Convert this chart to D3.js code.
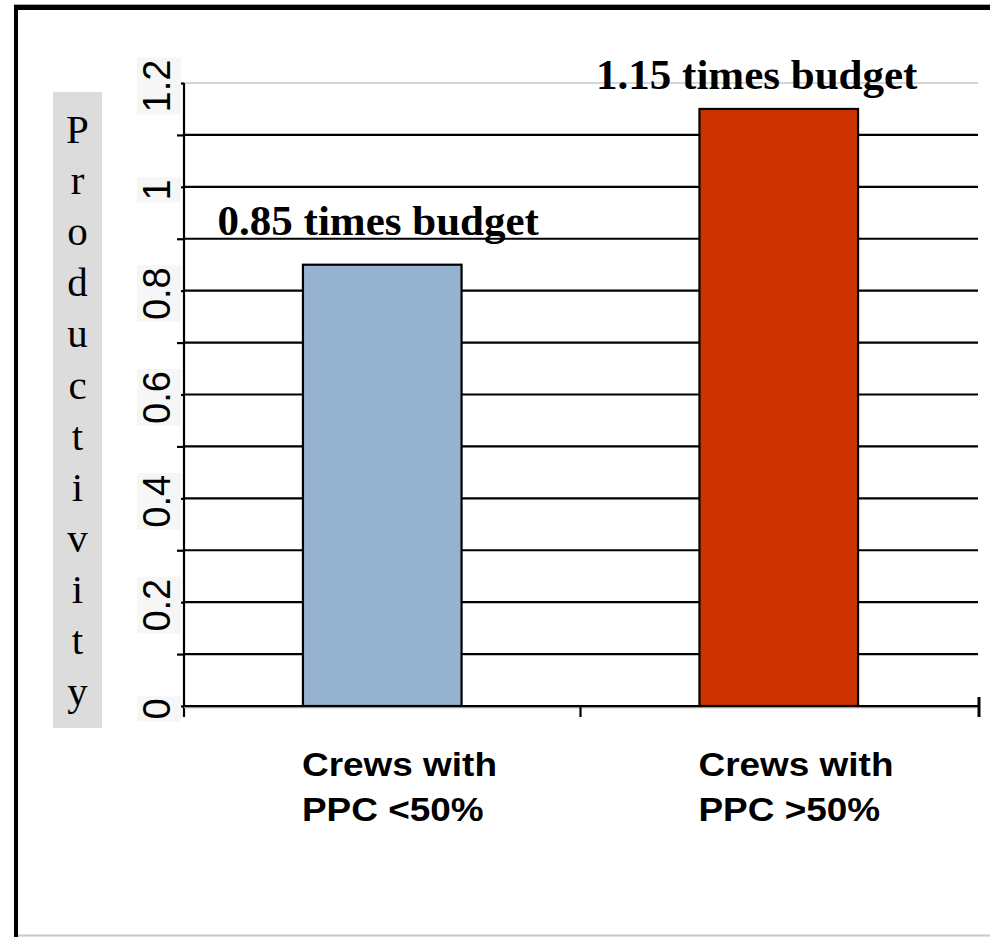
<!DOCTYPE html>
<html>
<head>
<meta charset="utf-8">
<script src="https://cdn.jsdelivr.net/npm/d3@7"></script>
<style>
  html, body { margin: 0; padding: 0; background: #fff; }
  svg { display: block; }
</style>
</head>
<body>
<svg id="chart" width="990" height="937"></svg>
<script>
// Productivity of crews grouped by Percent Plan Complete (PPC)
const categories = [["Crews with", "PPC <50%"], ["Crews with", "PPC >50%"]];
const productivity = [0.85, 1.15];
const barColors = ["#95b3d1", "#cc3300"];
const yTickValues = [0, 0.2, 0.4, 0.6, 0.8, 1, 1.2];
const yGridValues = [0, 0.1, 0.2, 0.3, 0.4, 0.5, 0.6, 0.7, 0.8, 0.9, 1, 1.1, 1.2];
const yTitle = "Productivity";

const svg = d3.select("#chart");
const W = 990, H = 937;
const plot = { left: 184, right: 978, top: 83, bottom: 706 };

svg.append("rect").attr("width", W).attr("height", H).attr("fill", "#fff");

// outer frame: heavy top and left rules, faint bottom rule
svg.append("line").attr("x1", 14).attr("x2", W).attr("y1", 4.5).attr("y2", 4.5)
  .attr("stroke", "#aaa").attr("stroke-width", 1);
svg.append("line").attr("x1", 14).attr("x2", W).attr("y1", 7.5).attr("y2", 7.5)
  .attr("stroke", "#000").attr("stroke-width", 5);
svg.append("line").attr("x1", 16).attr("x2", 16).attr("y1", 5).attr("y2", H)
  .attr("stroke", "#000").attr("stroke-width", 4);
svg.append("line").attr("x1", 18).attr("x2", W).attr("y1", 935.5).attr("y2", 935.5)
  .attr("stroke", "#c8c8c8").attr("stroke-width", 2);

const x = d3.scaleBand()
  .domain(d3.range(categories.length))
  .range([plot.left, plot.right - 1])
  .paddingInner(0.6)
  .paddingOuter(0.3);

const y = d3.scaleLinear().domain([0, 1.2]).range([plot.bottom, plot.top]);

// horizontal gridlines
svg.append("g").selectAll("line").data(yGridValues).join("line")
  .attr("x1", plot.left).attr("x2", plot.right)
  .attr("y1", d => y(d)).attr("y2", d => y(d))
  .attr("stroke", d => d === 1.2 ? "#c8c8c8" : "#000")
  .attr("stroke-width", d => d === 1.2 ? 1.5 : 2.2);

// y axis: minor ticks every 0.1 reach further left than the major ones
const yAxisMinor = d3.axisLeft(y).tickValues(yGridValues.filter(v => v > 0 && !yTickValues.includes(v)))
  .tickSize(7).tickFormat("");
const yAxisMajor = d3.axisLeft(y).tickValues(yTickValues).tickSize(3).tickFormat("");
[yAxisMinor, yAxisMajor].forEach(ax => {
  const g = svg.append("g").attr("transform", `translate(${plot.left},0)`).call(ax);
  g.select(".domain").remove();
  g.selectAll(".tick line").attr("stroke", "#000").attr("stroke-width", 2.2);
});
svg.append("line").attr("x1", plot.left).attr("x2", plot.left)
  .attr("y1", plot.top).attr("y2", plot.bottom + 11)
  .attr("stroke", "#000").attr("stroke-width", 2.2);

// rotated y tick labels on pale boxes
const yLab = svg.append("g").selectAll("g").data(yTickValues).join("g")
  .attr("transform", d => `translate(170,${y(d) + 3}) rotate(-90)`);
yLab.append("text")
  .attr("text-anchor", "middle")
  .attr("font-family", "'Liberation Sans', Arial, sans-serif")
  .attr("font-size", 38)
  .attr("fill", "#000")
  .text(d => d3.format("~g")(d));
yLab.each(function () {
  const g = d3.select(this);
  const w = g.select("text").node().getComputedTextLength();
  g.insert("rect", "text")
    .attr("x", -w / 2 - 2).attr("width", w + 4)
    .attr("y", -33).attr("height", 44)
    .attr("fill", "#f6f6f6");
});

// bars
svg.append("g").selectAll("rect").data(productivity).join("rect")
  .attr("x", (d, i) => x(i))
  .attr("width", x.bandwidth())
  .attr("y", d => y(d))
  .attr("height", d => y(0) - y(d))
  .attr("fill", (d, i) => barColors[i])
  .attr("stroke", "#000").attr("stroke-width", 2.2);

// x axis line and band boundary ticks
svg.append("line").attr("x1", plot.left).attr("x2", plot.right + 1)
  .attr("y1", y(0) + 1.5).attr("y2", y(0) + 1.5)
  .attr("stroke", "#999").attr("stroke-width", 1.5);
svg.append("line").attr("x1", plot.left).attr("x2", plot.right + 1)
  .attr("y1", y(0)).attr("y2", y(0))
  .attr("stroke", "#000").attr("stroke-width", 2.2);
const step = x.step();
svg.append("g").selectAll("line").data([1]).join("line")
  .attr("x1", d => x(0) - x.paddingOuter() * step + d * step)
  .attr("x2", d => x(0) - x.paddingOuter() * step + d * step)
  .attr("y1", y(0)).attr("y2", y(0) + 11)
  .attr("stroke", "#000").attr("stroke-width", 2.2);
svg.append("line").attr("x1", plot.right + 1).attr("x2", plot.right + 1)
  .attr("y1", y(0) - 9).attr("y2", y(0) + 11)
  .attr("stroke", "#000").attr("stroke-width", 3);

// value labels above the bars
const labelShift = [-4, -22];
const labelLift = [30, 20];
svg.append("g").selectAll("text").data(productivity).join("text")
  .attr("x", (d, i) => x(i) + x.bandwidth() / 2 + labelShift[i])
  .attr("y", (d, i) => y(d) - labelLift[i])
  .attr("text-anchor", "middle")
  .attr("font-family", "'Liberation Serif', 'Times New Roman', serif")
  .attr("font-weight", "bold")
  .attr("font-size", 43)
  .attr("fill", "#000")
  .text(d => `${d.toFixed(2)} times budget`);

// category labels, two lines each
const catG = svg.append("g").selectAll("g").data(categories).join("g")
  .attr("transform", (d, i) => `translate(${x(i) - 1},776) scale(1.12,1)`);
catG.selectAll("text").data(d => d).join("text")
  .attr("x", 0)
  .attr("y", (d, j) => j * 45)
  .attr("font-family", "'Liberation Sans', Arial, sans-serif")
  .attr("font-weight", "bold")
  .attr("font-size", 33)
  .attr("fill", "#000")
  .text(d => d);

// y axis title, stacked letters on a grey strip
svg.append("rect").attr("x", 53).attr("y", 92).attr("width", 49).attr("height", 636)
  .attr("fill", "#dcdcdc");
svg.append("g").selectAll("text").data(yTitle.split("")).join("text")
  .attr("x", 77.5)
  .attr("y", (d, i) => 143 + i * 51.1)
  .attr("text-anchor", "middle")
  .attr("font-family", "'Liberation Serif', 'Times New Roman', serif")
  .attr("font-size", 41)
  .attr("fill", "#000")
  .text(d => d);
</script>
</body>
</html>
